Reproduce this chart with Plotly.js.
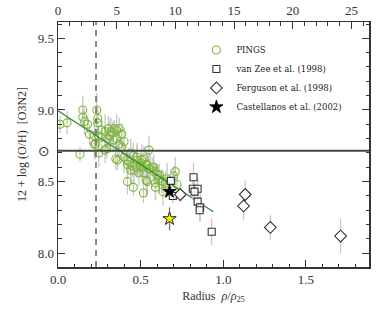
<!DOCTYPE html>
<html>
<head>
<meta charset="utf-8">
<script src="https://cdn.plot.ly/plotly-3.0.1.min.js"></script>
<style>html,body{margin:0;padding:0;background:#fff;}#plot{width:384px;height:316px;}</style>
</head>
<body>
<div id="plot"></div>
<script>
// PINGS (radius rho/rho25, 12+log(O/H), error)
const pingsR = [0.012,0.055,0.15,0.15,0.16,0.18,0.235,0.24,0.24,0.19,0.22,0.227,0.133,0.247,0.265,0.285,0.295,0.305,0.32,0.34,0.355,0.37,0.356,0.335,0.315,0.265,0.245,0.37,0.386,0.35,0.36,0.40,0.426,0.45,0.48,0.50,0.55,0.52,0.535,0.57,0.55,0.58,0.52,0.46,0.475,0.44,0.42,0.71,0.70,0.456,0.42,0.65,0.61,0.517,0.54,0.59,0.635,0.72,0.635,0.59,0.386,0.40,0.416,0.456,0.477,0.507,0.497,0.537,0.557,0.614,0.513,0.578,0.533,0.628,0.22,0.285,0.33,0.30,0.44,0.49,0.60,0.66];
const pingsOH = [8.90,8.91,9.00,8.95,8.92,8.90,9.00,8.94,8.91,8.83,8.82,8.765,8.69,8.70,8.86,8.85,8.73,8.87,8.85,8.87,8.86,8.87,8.80,8.79,8.82,8.81,8.82,8.76,8.74,8.66,8.65,8.67,8.64,8.61,8.65,8.63,8.72,8.66,8.62,8.60,8.59,8.57,8.56,8.58,8.60,8.58,8.62,8.57,8.54,8.46,8.50,8.49,8.52,8.42,8.50,8.49,8.50,8.48,8.43,8.46,8.83,8.78,8.65,8.68,8.67,8.65,8.61,8.615,8.59,8.545,8.60,8.60,8.51,8.505,8.76,8.72,8.84,8.80,8.70,8.56,8.55,8.52];
const pingsErr = [0.06,0.08,0.10,0.07,0.09,0.06,0.12,0.08,0.10,0.07,0.09,0.11,0.05,0.10,0.08,0.12,0.07,0.09,0.10,0.06,0.11,0.08,0.09,0.07,0.12,0.08,0.06,0.10,0.09,0.08,0.07,0.11,0.09,0.08,0.12,0.07,0.10,0.09,0.08,0.07,0.11,0.09,0.08,0.10,0.07,0.09,0.08,0.10,0.07,0.06,0.09,0.08,0.10,0.07,0.09,0.12,0.08,0.07,0.10,0.09,0.08,0.10,0.07,0.09,0.08,0.11,0.07,0.09,0.10,0.08,0.07,0.09,0.11,0.08,0.10,0.09,0.08,0.07,0.10,0.09,0.08,0.11];

// van Zee et al. (1998)
const vzR = [0.683,0.695,0.82,0.816,0.845,0.826,0.845,0.86,0.857,0.93];
const vzOH = [8.505,8.40,8.53,8.45,8.45,8.43,8.36,8.32,8.30,8.15];
const vzErr = [0.08,0.05,0.10,0.08,0.08,0.07,0.09,0.10,0.08,0.09];

// Ferguson et al. (1998)
const fgR = [0.74,1.133,1.123,1.285,1.71];
const fgOH = [8.41,8.41,8.33,8.18,8.12];
const fgErr = [0.05,0.10,0.10,0.085,0.12];

// Castellanos et al. (2002)
const caR = [0.675];
const caOH = [8.43];
const caErr = [0.03];
const caYR = [0.675];
const caYOH = [8.24];
const caYErr = [0.08];

// Linear fit to PINGS
const fitIntercept = 8.995;
const fitSlope = -0.75;
const fitRange = [0.0, 0.94];

const solarOH = 8.715;
const rEff = 0.23;          // dashed line radius
const rho25kpc = 14.08;     // kpc per rho25

const xMax = 1.882;
const yRange = [7.904, 9.614];

const topTicks = [0,5,10,15,20,25];
const bottomTicks = [0,0.5,1.0,1.5];
const bottomTickText = ['0.0','0.5','1.0','1.5'];
const yTicks = [8.0,8.5,9.0,9.5];
const yTickText = ['8.0','8.5','9.0','9.5'];

const serif = 'Liberation Serif, DejaVu Serif, serif';
const errStyle = {type:'data', visible:true, color:'#c8c8c8', thickness:1.3, width:0};

const traces = [
  {x:pingsR, y:pingsOH, error_y:Object.assign({array:pingsErr}, errStyle), mode:'markers', type:'scatter', name:'PINGS',
   marker:{symbol:'circle-open', size:8, color:'#7cb733', line:{width:1.1, color:'#7cb733'}}},
  {x:fitRange, y:fitRange.map(r=>fitIntercept+fitSlope*r), mode:'lines', type:'scatter', showlegend:false,
   line:{color:'#2f8a2f', width:1.2}},
  {x:vzR, y:vzOH, error_y:Object.assign({array:vzErr}, errStyle), mode:'markers', type:'scatter', name:'van Zee et al. (1998)',
   marker:{symbol:'square', size:7, color:'rgba(255,255,255,0.9)', line:{width:1.1, color:'#333'}}},
  {x:fgR, y:fgOH, error_y:Object.assign({array:fgErr}, errStyle), mode:'markers', type:'scatter', name:'Ferguson et al. (1998)',
   marker:{symbol:'diamond', size:9, color:'rgba(255,255,255,0.9)', line:{width:1.1, color:'#333'}}},
  {x:caR, y:caOH, error_y:Object.assign({array:caErr}, errStyle, {color:'#777'}), mode:'markers', type:'scatter', name:'Castellanos et al. (2002)',
   marker:{symbol:'star', size:10, color:'#000', line:{width:0.8, color:'#000'}}},
  {x:caYR, y:caYOH, error_y:Object.assign({array:caYErr}, errStyle, {color:'#777'}), mode:'markers', type:'scatter', showlegend:false,
   marker:{symbol:'star', size:10, color:'#f2f200', line:{width:1, color:'#222'}}},
  {x:[0,1], y:[0,0], xaxis:'x2', yaxis:'y', mode:'markers', marker:{opacity:0}, showlegend:false, hoverinfo:'skip'}
];

const layout = {
  width:384, height:316,
  margin:{l:58, r:15, t:22, b:49},
  paper_bgcolor:'#fff', plot_bgcolor:'#fff',
  showlegend:true,
  font:{family:serif, color:'#333', size:12},
  xaxis:{range:[0,xMax], tickvals:bottomTicks, ticktext:bottomTickText, ticks:'inside', ticklen:7, tickwidth:1, tickcolor:'#333',
         minor:{dtick:0.1, ticks:'inside', ticklen:3.5, tickcolor:'#333'},
         showline:true, linecolor:'#333', linewidth:1.5, showgrid:false, zeroline:false,
         tickfont:{family:serif, size:13, color:'#333'},
         title:{text:'Radius  <i>ρ</i>/<i>ρ</i><sub>25</sub>', font:{family:serif, size:12, color:'#333'}, standoff:5}},
  xaxis2:{range:[0,xMax*rho25kpc], overlaying:'x', side:'top', tickvals:topTicks, ticks:'inside', ticklen:7, tickcolor:'#333',
          minor:{dtick:1, ticks:'inside', ticklen:3.5, tickcolor:'#333'},
          showline:true, linecolor:'#333', linewidth:1.5, showgrid:false, zeroline:false,
          tickfont:{family:serif, size:13, color:'#333'}},
  yaxis:{range:yRange, tickvals:yTicks, ticktext:yTickText, ticks:'inside', ticklen:7, tickcolor:'#333', mirror:'ticks',
         minor:{dtick:0.1, ticks:'inside', ticklen:3.5, tickcolor:'#333'},
         showline:true, linecolor:'#333', linewidth:1.5, showgrid:false, zeroline:false,
         tickfont:{family:serif, size:13, color:'#333'},
         title:{text:'12 + log (O/H)  [O3N2]', font:{family:serif, size:12, color:'#333'}, standoff:8}},
  legend:{x:0.445, y:0.945, xanchor:'left', yanchor:'top', bgcolor:'rgba(0,0,0,0)', font:{family:'DejaVu Serif, serif', size:8.5, color:'#222'},
          tracegroupgap:0, itemwidth:30},
  shapes:[
    {type:'line', xref:'paper', x0:0, x1:1, yref:'y', y0:solarOH, y1:solarOH, line:{color:'#444', width:2}},
    {type:'line', xref:'x', x0:rEff, x1:rEff, yref:'paper', y0:0, y1:1, line:{color:'#666', width:1.5, dash:'6px,5px'}}
  ],
  annotations:[
    {xref:'paper', x:0, xanchor:'right', xshift:-6, yref:'y', y:solarOH, text:'⊙', showarrow:false, font:{family:'DejaVu Sans', size:14, color:'#333'}}
  ]
};

Plotly.newPlot('plot', traces, layout, {staticPlot:true, displayModeBar:false});
</script>
</body>
</html>
